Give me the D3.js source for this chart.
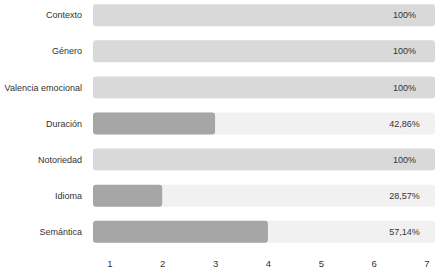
<!DOCTYPE html>
<html>
<head>
<meta charset="utf-8">
<script src="https://cdn.jsdelivr.net/npm/d3@7"></script>
<style>
  html, body { margin: 0; padding: 0; background: #fff; }
  svg { display: block; font-family: "Liberation Sans", Arial, sans-serif; }
</style>
</head>
<body>
<svg id="chart" width="443" height="273"></svg>
<script>
(function(){

const WIDTH = 443, HEIGHT = 273;

// data: answers out of 7
const categories = ['Contexto', 'Género', 'Valencia emocional', 'Duración', 'Notoriedad', 'Idioma', 'Semántica'];
const counts     = [7, 7, 7, 3, 7, 2, 4];
const percentLabels = ['100%', '100%', '100%', '42,86%', '100%', '28,57%', '57,14%'];
const tickValues = [1, 2, 3, 4, 5, 6, 7];
const TOTAL = 7;

const rows = categories.map((name, i) => ({name, count: counts[i], label: percentLabels[i]}));

const svg = d3.select('#chart');

// track spans from 0.71 to 7.18 on the value axis
const x = d3.scaleLinear().domain([0.71, 7.18]).range([93, 435]);
const y = d3.scaleBand().domain(categories).range([-3, 250]).paddingInner(0.39).paddingOuter(0.2);

const g = svg.append('g');

const row = g.selectAll('g.row')
  .data(rows)
  .join('g')
  .attr('class', 'row')
  .attr('transform', d => `translate(0,${y(d.name)})`);

// track
row.append('rect')
  .attr('x', x(0.71))
  .attr('width', x(7.18) - x(0.71))
  .attr('height', y.bandwidth())
  .attr('rx', 3)
  .attr('fill', d => d.count === TOTAL ? '#d9d9d9' : '#f1f1f1');

// filled part (partial rows only)
row.filter(d => d.count < TOTAL)
  .append('rect')
  .attr('x', x(0.71))
  .attr('width', d => x(d.count) - x(0.71) + 1)
  .attr('height', y.bandwidth())
  .attr('rx', 3)
  .attr('fill', '#a6a6a6');

// category labels
row.append('text')
  .attr('x', 82)
  .attr('y', y.bandwidth() / 2)
  .attr('dy', '0.35em')
  .attr('text-anchor', 'end')
  .attr('font-size', 9)
  .attr('fill', '#333')
  .text(d => d.name);

// percentages
row.append('text')
  .attr('x', 404.5)
  .attr('y', y.bandwidth() / 2)
  .attr('dy', '0.35em')
  .attr('text-anchor', 'middle')
  .attr('font-size', 9)
  .attr('fill', '#333')
  .text(d => d.label);

// bottom axis
const axis = d3.axisBottom(x).tickValues(tickValues).tickSize(0).tickPadding(0).tickFormat(d3.format('d'));
const ax = svg.append('g')
  .attr('transform', 'translate(1,260)')
  .call(axis);
ax.select('.domain').remove();
ax.selectAll('text')
  .attr('font-size', 9.5)
  .attr('font-family', '"Liberation Sans", Arial, sans-serif')
  .attr('fill', '#333');

})();
</script>
</body>
</html>
